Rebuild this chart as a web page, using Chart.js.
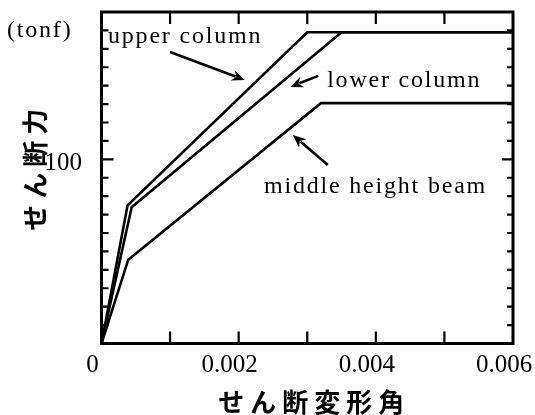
<!DOCTYPE html>
<html>
<head>
<meta charset="utf-8">
<script src="https://cdn.jsdelivr.net/npm/chart.js@4.4.0/dist/chart.umd.min.js"></script>
<style>
  html, body { margin: 0; padding: 0; background: #fff; }
  canvas { display: block; }
</style>
</head>
<body>
<canvas id="c" width="535" height="415"></canvas>
<script>
// Shear force vs. shear deformation angle (trilinear skeleton curves)
const upperX  = [0, 0.00038, 0.0030, 0.006];
const upperY  = [0, 75, 169, 169];
const lowerX  = [0, 0.00044, 0.0035, 0.006];
const lowerY  = [0, 74, 169, 169];
const middleX = [0, 0.00039, 0.0032, 0.006];
const middleY = [0, 45.5, 130.5, 130.5];

const seriesNames = ['upper column', 'lower column', 'middle height beam'];

const xTickValues = [0, 0.002, 0.004, 0.006];
const xTickLabels = ['0', '0.002', '0.004', '0.006'];
const yTickValues = [100];
const yTickLabels = ['100'];
const unitLabel = '(tonf)';

const toPoints = (xs, ys) => xs.map((x, i) => ({ x, y: ys[i] }));

// label placement (data coordinates: left edge, baseline) and pointer arrows
const noteLayout = [
  { text: seriesNames[0], x: 0.000095, y: 163.2, from: [0.0010, 158.3], to: [0.00209, 143.1] },
  { text: seriesNames[1], x: 0.00329,  y: 139.3, from: [0.00316, 145.3], to: [0.00275, 139.3] },
  { text: seriesNames[2], x: 0.00237,  y: 81.7,  from: [0.00330, 96.9], to: [0.00279, 113.2] },
  { text: unitLabel,      x: -0.001378, y: 166.4 }
];

const serif = 'Liberation Serif';
const gothic = '"Noto Sans CJK JP", "Noto Sans CJK SC", sans-serif';

// wider spacing for the Japanese axis titles
const titleShift = { x: [7, 0], y: [0, -11] };
const spacedTitles = {
  id: 'spacedTitles',
  beforeDraw(chart) {
    for (const id of ['x', 'y']) {
      const s = chart.scales[id];
      if (!s || s._spaced) continue;
      const orig = s.drawTitle.bind(s);
      s.drawTitle = function () {
        const c = this.ctx;
        c.save();
        c.letterSpacing = '6px';
        c.translate(titleShift[id][0], titleShift[id][1]);
        orig();
        c.restore();
      };
      s._spaced = true;
    }
  }
};

// frame, inward tick marks, labels and arrows
const framePlugin = {
  id: 'frame',
  afterDatasetsDraw(chart) {
    const { ctx, chartArea: a, scales: { x, y } } = chart;
    ctx.save();
    ctx.strokeStyle = '#000';
    ctx.fillStyle = '#000';
    ctx.lineCap = 'butt';

    // x ticks every 0.001 (bottom and top)
    ctx.lineWidth = 2.2;
    ctx.beginPath();
    for (let k = 1; k < 6; k++) {
      const px = x.getPixelForValue(k * 0.001);
      ctx.moveTo(px, a.bottom); ctx.lineTo(px, a.bottom - 12);
      ctx.moveTo(px, a.top);    ctx.lineTo(px, a.top + 12);
    }
    // y ticks every 10 (left and right), longer at 100
    for (let v = 10; v < 180; v += 10) {
      const py = y.getPixelForValue(v);
      const major = v % 100 === 0;
      ctx.moveTo(a.left, py);  ctx.lineTo(a.left + (major ? 12 : 7), py);
      ctx.moveTo(a.right, py); ctx.lineTo(a.right - (major ? 11 : 6), py);
    }
    ctx.stroke();

    // frame
    ctx.lineWidth = 3;
    ctx.strokeRect(a.left, a.top, a.right - a.left, a.bottom - a.top);

    // annotations
    ctx.font = '24px "' + serif + '"';
    ctx.letterSpacing = '1.8px';
    ctx.textAlign = 'left';
    ctx.textBaseline = 'alphabetic';
    for (const n of noteLayout) {
      ctx.fillText(n.text, x.getPixelForValue(n.x), y.getPixelForValue(n.y));
      if (!n.from) continue;
      const x0 = x.getPixelForValue(n.from[0]), y0 = y.getPixelForValue(n.from[1]);
      const x1 = x.getPixelForValue(n.to[0]),   y1 = y.getPixelForValue(n.to[1]);
      const ang = Math.atan2(y1 - y0, x1 - x0);
      const hl = 13, hw = 5.5;
      const bx = x1 - hl * Math.cos(ang), by = y1 - hl * Math.sin(ang);
      ctx.lineWidth = 2.6;
      ctx.beginPath();
      ctx.moveTo(x0, y0);
      ctx.lineTo(bx + 3 * Math.cos(ang), by + 3 * Math.sin(ang));
      ctx.stroke();
      ctx.beginPath();
      ctx.moveTo(x1, y1);
      ctx.lineTo(bx - hw * Math.sin(ang), by + hw * Math.cos(ang));
      ctx.lineTo(bx + 4 * Math.cos(ang), by + 4 * Math.sin(ang));
      ctx.lineTo(bx + hw * Math.sin(ang), by - hw * Math.cos(ang));
      ctx.closePath();
      ctx.fill();
    }
    ctx.restore();
  }
};

const lineStyle = {
  showLine: true, borderColor: '#000', backgroundColor: '#000',
  borderWidth: 2.6, pointRadius: 0, tension: 0, fill: false,
  borderJoinStyle: 'miter'
};

new Chart(document.getElementById('c'), {
  type: 'scatter',
  data: {
    datasets: [
      { label: seriesNames[0], data: toPoints(upperX, upperY), ...lineStyle },
      { label: seriesNames[1], data: toPoints(lowerX, lowerY), ...lineStyle },
      { label: seriesNames[2], data: toPoints(middleX, middleY), ...lineStyle }
    ]
  },
  options: {
    responsive: false,
    animation: false,
    layout: { padding: { left: 0, top: 12, right: 22, bottom: 0 } },
    plugins: { legend: { display: false }, tooltip: { enabled: false } },
    scales: {
      x: {
        type: 'linear', min: 0, max: 0.006,
        afterBuildTicks: s => { s.ticks = xTickValues.map(v => ({ value: v })); },
        afterFit: s => { s.height = 71.5; s.paddingLeft = 0; s.paddingRight = 0; },
        grid: { display: false, drawTicks: false },
        border: { display: false },
        ticks: {
          callback: (v, i) => xTickLabels[i],
          font: { family: serif, size: 25 }, color: '#000',
          padding: 6.5, labelOffset: -9, maxRotation: 0, autoSkip: false
        },
        title: {
          display: true, text: 'せん断変形角', color: '#000',
          font: { family: gothic, size: 26, weight: 'bold', lineHeight: 1 },
          padding: { top: 0, bottom: 0 }
        }
      },
      y: {
        type: 'linear', min: 0, max: 180,
        afterBuildTicks: s => { s.ticks = yTickValues.map(v => ({ value: v })); },
        afterFit: s => { s.width = 101.5; s.paddingTop = 0; s.paddingBottom = 0; },
        grid: { display: false, drawTicks: false },
        border: { display: false },
        ticks: {
          callback: (v, i) => yTickLabels[i],
          font: { family: serif, size: 25 }, color: '#000',
          padding: 19.5, labelOffset: 4, autoSkip: false
        },
        title: {
          display: true, text: 'せん断力', color: '#000',
          font: { family: gothic, size: 26, weight: 'bold', lineHeight: 1 },
          padding: { top: 22, bottom: 0 }
        }
      }
    }
  },
  plugins: [spacedTitles, framePlugin]
});
</script>
</body>
</html>
